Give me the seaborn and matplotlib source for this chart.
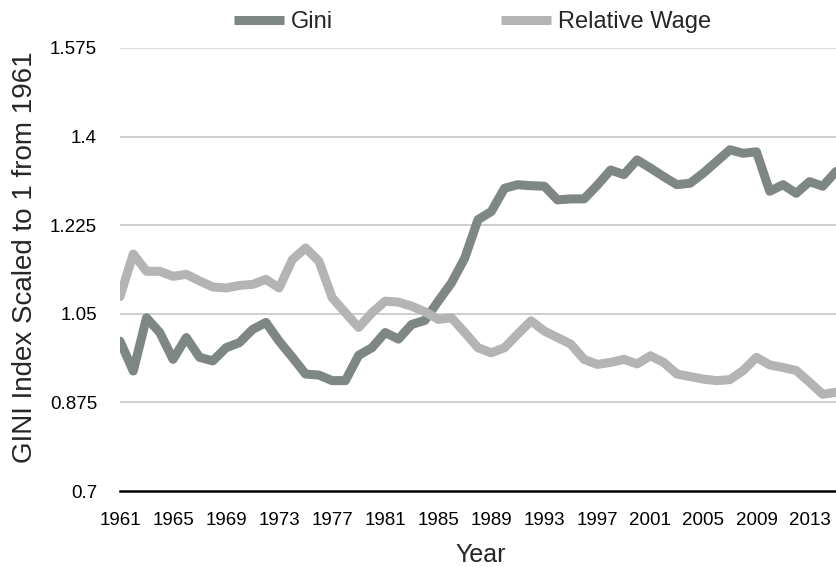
import matplotlib
matplotlib.use("Agg")
import matplotlib.pyplot as plt
import seaborn as sns
import pandas as pd
from matplotlib.lines import Line2D

years = list(range(1961, 2016))
gini = [0.996, 0.937, 1.042, 1.013, 0.960, 1.003, 0.964, 0.957, 0.983, 0.993,
        1.019, 1.033, 0.996, 0.964, 0.931, 0.929, 0.918, 0.918, 0.968, 0.983,
        1.013, 1.000, 1.029, 1.037, 1.075, 1.111, 1.160, 1.236, 1.252, 1.298,
        1.305, 1.303, 1.302, 1.275, 1.277, 1.277, 1.304, 1.334, 1.325, 1.354,
        1.338, 1.321, 1.305, 1.308, 1.328, 1.351, 1.374, 1.367, 1.370, 1.292,
        1.305, 1.288, 1.311, 1.302, 1.331]
rel_wage = [1.084, 1.168, 1.134, 1.134, 1.124, 1.128, 1.115, 1.103, 1.101, 1.106,
            1.108, 1.118, 1.101, 1.157, 1.180, 1.154, 1.082, 1.052, 1.023, 1.052,
            1.075, 1.073, 1.065, 1.054, 1.039, 1.042, 1.013, 0.983, 0.973, 0.983,
            1.010, 1.036, 1.016, 1.003, 0.990, 0.960, 0.950, 0.954, 0.960, 0.951,
            0.967, 0.954, 0.931, 0.926, 0.921, 0.918, 0.920, 0.938, 0.964, 0.949,
            0.944, 0.938, 0.915, 0.891, 0.895]
series_names = ["Gini", "Relative Wage"]
y_ticks = [0.7, 0.875, 1.05, 1.225, 1.4, 1.575]
y_tick_labels = ["0.7", "0.875", "1.05", "1.225", "1.4", "1.575"]
x_ticks = list(range(1961, 2016, 4))

df = pd.DataFrame({
    "Year": years * 2,
    "Value": gini + rel_wage,
    "Series": [series_names[0]] * len(years) + [series_names[1]] * len(years),
})

sns.set_theme(style="white")
plt.rcParams["font.family"] = ["Liberation Sans", "DejaVu Sans"]

fig = plt.figure(figsize=(8.36, 5.67), dpi=100)
W, H = 836, 567
ax = fig.add_axes([120 / W, 1 - 491 / H, (836 - 120) / W, (491 - 48) / H])

palette = {"Gini": "#7f8784", "Relative Wage": "#b4b4b4"}
sns.lineplot(data=df, x="Year", y="Value", hue="Series", palette=palette,
             linewidth=6.5, ax=ax, legend=False, zorder=3)

ax.set_xlim(1961, 2015)
ax.set_ylim(0.7, 1.575)
ax.set_yticks(y_ticks)
ax.set_yticklabels(y_tick_labels)
ax.set_xticks(x_ticks)
ax.set_xticklabels([str(x) for x in x_ticks])
ax.tick_params(axis="both", length=0, labelsize=13.5, colors="#000000")
ax.tick_params(axis="y", pad=16.5)
ax.tick_params(axis="x", pad=15)

for v in y_ticks[1:]:
    ax.axhline(v, color="#c6c6c6" if v != 1.575 else "#d6d6d6", lw=1.2, zorder=1)

for s in ["top", "right", "left"]:
    ax.spines[s].set_visible(False)
ax.spines["bottom"].set_color("#000000")
ax.spines["bottom"].set_linewidth(1.8)
ax.spines["bottom"].set_zorder(4)

ax.set_xlabel("Year", fontsize=18)
ax.xaxis.set_label_coords(0.504, -0.117)
ax.set_ylabel("GINI Index Scaled to 1 from 1961", fontsize=20)
ax.yaxis.set_label_coords(-0.115, 0.528)

handles = [Line2D([0], [0], color=palette[n], lw=6.5, solid_capstyle="butt") for n in series_names]
fig.legend(handles, series_names, loc="center", bbox_to_anchor=(472.5 / W, 1 - 22 / H),
           ncol=2, frameon=False, fontsize=17, handlelength=2.12, handletextpad=0.3,
           columnspacing=7.1, borderpad=0, borderaxespad=0)

fig.savefig("out.png", dpi=100)
